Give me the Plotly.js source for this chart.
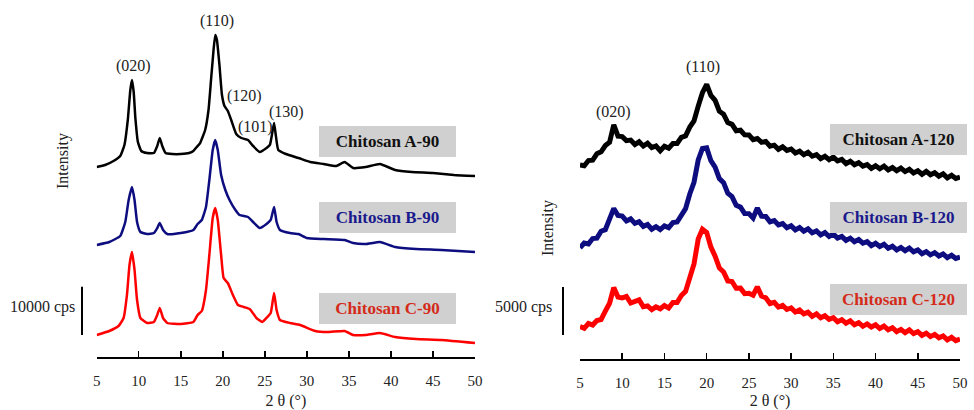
<!DOCTYPE html>
<html>
<head>
<meta charset="utf-8">
<script src="https://cdn.plot.ly/plotly-3.0.1.min.js"></script>
<style>html,body{margin:0;padding:0;background:#fff;}#chart{width:974px;height:410px;}</style>
</head>
<body>
<div id="chart"></div>
<script>
// ---------- Left panel (90 °C samples), intensity in cps ----------
const thetaA90 = [5.0,6.0,7.0,7.8,8.3,8.7,9.0,9.2,9.4,9.6,9.9,10.3,11.0,11.8,12.2,12.5,12.8,13.2,14.0,15.0,16.0,16.5,16.9,17.3,17.9,18.3,18.6,18.9,19.1,19.3,19.6,19.9,20.2,20.6,21.0,21.6,22.2,23.0,23.6,24.4,25.2,25.6,25.9,26.1,26.3,26.6,27.5,29.0,30.4,32.0,33.5,34.5,35.5,37.0,38.7,40.5,42.5,45.0,47.5,50.0];
const intA90 = [5520,5940,6770,7810,10100,15300,21540,23620,21120,15710,10720,8850,8430,8430,9890,11550,9890,8430,8220,8220,8430,8850,9680,10510,13220,17380,23620,29860,32980,31940,26740,20500,18210,17170,15300,12380,11550,11140,9890,8640,9470,10100,12800,14670,12180,9060,8220,7390,6560,6140,5730,6560,5310,5520,6140,4900,4480,4270,3860,3650];

const thetaB90 = [5.0,6.5,7.8,8.4,8.8,9.2,9.5,9.8,10.2,11.0,11.8,12.2,12.5,12.9,13.4,15.0,16.5,17.0,17.5,18.0,18.4,18.8,19.1,19.4,19.8,20.3,20.8,21.5,22.0,23.0,23.6,24.4,25.2,25.7,26.1,26.4,26.8,28.0,29.0,30.0,32.0,34.5,35.5,37.0,38.7,40.5,43.0,46.0,50.0];
const intB90 = [5300,5920,7170,10080,14660,17360,14660,10080,8000,7580,7790,8830,9870,8420,7580,7790,8420,9660,10500,13200,18820,25060,27140,25060,19860,16740,14660,12580,11540,11120,10080,8830,9660,10500,13200,10080,8420,7790,7580,6750,6540,6340,5710,5500,5920,4880,4460,4260,3840];

const thetaC90 = [5.0,6.5,7.6,8.2,8.6,8.9,9.2,9.5,9.8,10.2,11.0,11.8,12.2,12.5,12.9,13.4,15.0,16.5,17.0,17.5,18.0,18.4,18.8,19.1,19.4,19.8,20.1,20.6,21.2,21.8,22.5,23.2,24.0,24.7,25.3,25.7,26.1,26.4,26.8,28.0,29.2,31.0,32.5,34.5,35.5,37.0,38.7,40.5,43.0,46.0,50.0];
const intC90 = [4580,5410,6450,8110,12900,19140,21840,18100,11860,8110,7070,7280,8740,10190,8110,7070,6860,7280,8740,9570,13940,21220,28910,30990,28500,21220,16430,15390,12900,10820,10400,9980,8110,7280,8320,9150,13310,9780,7700,7070,6660,5410,5200,5410,4580,4580,4990,4160,3740,3540,2910];

// ---------- Right panel (120 °C samples), intensity in cps, read every 0.5° ----------
const theta120 = [5.0,5.5,6.0,6.5,7.0,7.5,8.0,8.5,9.0,9.5,10.0,10.5,11.0,11.5,12.0,12.5,13.0,13.5,14.0,14.5,15.0,15.5,16.0,16.5,17.0,17.5,18.0,18.5,19.0,19.5,20.0,20.5,21.0,21.5,22.0,22.5,23.0,23.5,24.0,24.5,25.0,25.5,26.0,26.5,27.0,27.5,28.0,28.5,29.0,29.5,30.0,30.5,31.0,31.5,32.0,32.5,33.0,33.5,34.0,34.5,35.0,35.5,36.0,36.5,37.0,37.5,38.0,38.5,39.0,39.5,40.0,40.5,41.0,41.5,42.0,42.5,43.0,43.5,44.0,44.5,45.0,45.5,46.0,46.5,47.0,47.5,48.0,48.5,49.0,49.5,50.0];
const intA120 = [2180,2100,2640,2680,3340,3540,4200,4530,6360,5170,5130,4710,4770,4300,4590,4140,4440,3990,4150,3660,4120,3930,4410,4410,5060,5200,6120,6750,8300,9700,10550,9420,8910,7770,7470,6580,6400,5740,5790,5310,5300,4800,4930,4530,4630,4140,4240,3810,4060,3700,3840,3430,3620,3250,3500,3090,3260,2840,3080,2730,2990,2600,2750,2320,2570,2200,2420,2060,2210,1820,2090,1780,2050,1660,1910,1580,1850,1490,1730,1350,1570,1210,1510,1160,1370,1010,1250,840,1110,770,920];
const intB120 = [2560,3060,2970,3530,3570,4290,4450,5450,6660,5930,5860,5360,5570,5100,5270,4790,4990,4500,4760,4460,4840,4660,5180,5250,6030,6630,8160,9380,11700,12900,12960,11620,10950,9770,9340,8240,7880,6980,6800,6130,6120,5660,6700,5850,5820,5270,5390,4940,5090,4650,4850,4430,4680,4300,4530,4130,4310,3910,4140,3740,3990,3570,3750,3340,3570,3200,3420,3040,3210,2790,3040,2700,2930,2520,2730,2350,2600,2260,2540,2150,2350,1950,2170,1830,2060,1710,1930,1540,1800,1460,1580];
const intC120 = [3370,3190,3690,3530,4010,4110,4970,5800,7430,6440,6350,6500,5820,6030,6150,5430,5520,5140,5420,5220,5560,5300,5880,5880,6600,7030,8560,9880,12480,13500,13170,11640,10690,9470,9050,8120,8060,7360,7370,6800,6840,6630,7500,6540,6370,5770,5900,5410,5580,5150,5310,4880,5090,4690,4870,4440,4690,4280,4500,4130,4300,3880,4090,3730,3970,3560,3780,3400,3650,3330,3560,3170,3420,3040,3250,2850,3080,2740,3030,2650,2850,2450,2690,2330,2560,2210,2400,1990,2260,1910,2070];

// vertical stacking offsets (cps)
const offsets90 = {A: 34000, B: 18000, C: 0};
const offsets120 = {A: 18000, B: 9000, C: 0};

const sampleNames = ['Chitosan A-90','Chitosan B-90','Chitosan C-90','Chitosan A-120','Chitosan B-120','Chitosan C-120'];
const peakLabels90 = ['(020)','(110)','(120)','(101)','(130)'];
const peakLabels120 = ['(020)','(110)'];
const xTicks = [5,10,15,20,25,30,35,40,45,50];
const scaleBars = [{label:'10000 cps', span:10000}, {label:'5000 cps', span:5000}];

const colBlack = '#000000', colBlue = '#0d0d80', colRed = '#ff0000';
const txtBlue = '#1a1a8c', txtRed = '#d42a1a';
const serif = 'Liberation Serif, Times New Roman, serif';

function shift(arr, off){ return arr.map(v => v + off); }

const lw90 = 2.5, lw120 = 5;
const traces = [
  {x: thetaA90, y: shift(intA90, offsets90.A), xaxis:'x', yaxis:'y', mode:'lines', line:{color:colBlack, width:lw90, shape:'spline', smoothing:0.4}},
  {x: thetaB90, y: shift(intB90, offsets90.B), xaxis:'x', yaxis:'y', mode:'lines', line:{color:colBlue, width:lw90, shape:'spline', smoothing:0.4}},
  {x: thetaC90, y: shift(intC90, offsets90.C), xaxis:'x', yaxis:'y', mode:'lines', line:{color:colRed, width:lw90, shape:'spline', smoothing:0.4}},
  {x: theta120, y: shift(intA120, offsets120.A), xaxis:'x2', yaxis:'y2', mode:'lines', line:{color:colBlack, width:lw120}},
  {x: theta120, y: shift(intB120, offsets120.B), xaxis:'x2', yaxis:'y2', mode:'lines', line:{color:colBlue, width:lw120}},
  {x: theta120, y: shift(intC120, offsets120.C), xaxis:'x2', yaxis:'y2', mode:'lines', line:{color:colRed, width:lw120}}
];

const W = 974, H = 410;
const px = v => v / W, py = v => 1 - v / H;

const xaxisBase = {
  range:[5,50], tickvals:xTicks, ticktext:xTicks.map(String), ticks:'inside', ticklen:6, tickwidth:1.5,
  tickcolor:'#000', showline:true, linecolor:'#000', linewidth:2, showgrid:false, zeroline:false,
  tickfont:{family:serif, size:15, color:'#222'}, ticklabelstandoff:9, fixedrange:true,
  title:{text:'2 θ (°)', font:{family:serif, size:16, color:'#222'}, standoff:8}
};

const layout = {
  width:W, height:H, margin:{l:0,r:0,t:0,b:0}, showlegend:false,
  paper_bgcolor:'#fff', plot_bgcolor:'rgba(0,0,0,0)',
  xaxis: Object.assign({}, xaxisBase, {domain:[px(96.7), px(475)], anchor:'y'}),
  yaxis: {domain:[py(357), py(10)], range:[0, 347*208], visible:false, fixedrange:true},
  xaxis2: Object.assign({}, xaxisBase, {domain:[px(580), px(960)], anchor:'y2'}),
  yaxis2: {domain:[py(359), py(10)], range:[0, 349*104], visible:false, fixedrange:true},
  shapes: [
    {type:'line', xref:'paper', yref:'y', x0:px(82), x1:px(82), y0:4600, y1:4600+scaleBars[0].span, line:{color:'#000', width:2}},
    {type:'line', xref:'paper', yref:'y2', x0:px(563), x1:px(563), y0:2500, y1:2500+scaleBars[1].span, line:{color:'#000', width:2}}
  ],
  annotations: []
};

const ann = layout.annotations;
function txt(t, x, y, opts){ ann.push(Object.assign({text:t, x:px(x), y:py(y), xref:'paper', yref:'paper', showarrow:false, xanchor:'center', yanchor:'middle', font:{family:serif, size:16, color:'#222'}}, opts||{})); }

// peak labels
const pk90pos = [[133,66],[217,21],[245,96],[255,127],[286,112]];
peakLabels90.forEach((t,i)=>txt(t, pk90pos[i][0], pk90pos[i][1]));
const pk120pos = [[613,112],[703,67]];
peakLabels120.forEach((t,i)=>txt(t, pk120pos[i][0], pk120pos[i][1]));

// Intensity titles
txt('Intensity', 63, 161, {textangle:-90});
txt('Intensity', 548, 228, {textangle:-90});

// scale bar labels
txt(scaleBars[0].label, 77, 307, {xanchor:'right'});
txt(scaleBars[1].label, 554, 307, {xanchor:'right'});

// sample boxes
const boxPos = [[387.5,141],[387.5,217],[387.5,308.5],[898.5,139.5],[898.5,217],[898.5,299.5]];
const boxCol = ['#111', txtBlue, txtRed, '#111', txtBlue, txtRed];
sampleNames.forEach((t,i)=>txt('<b>'+t+'</b>', boxPos[i][0], boxPos[i][1], {
  bgcolor:'#d0d0d0', width:137, height:31, borderpad:0, borderwidth:0,
  font:{family:serif, size:17, color:boxCol[i]}
}));

Plotly.newPlot('chart', traces, layout, {displayModeBar:false, staticPlot:true});
</script>
</body>
</html>
